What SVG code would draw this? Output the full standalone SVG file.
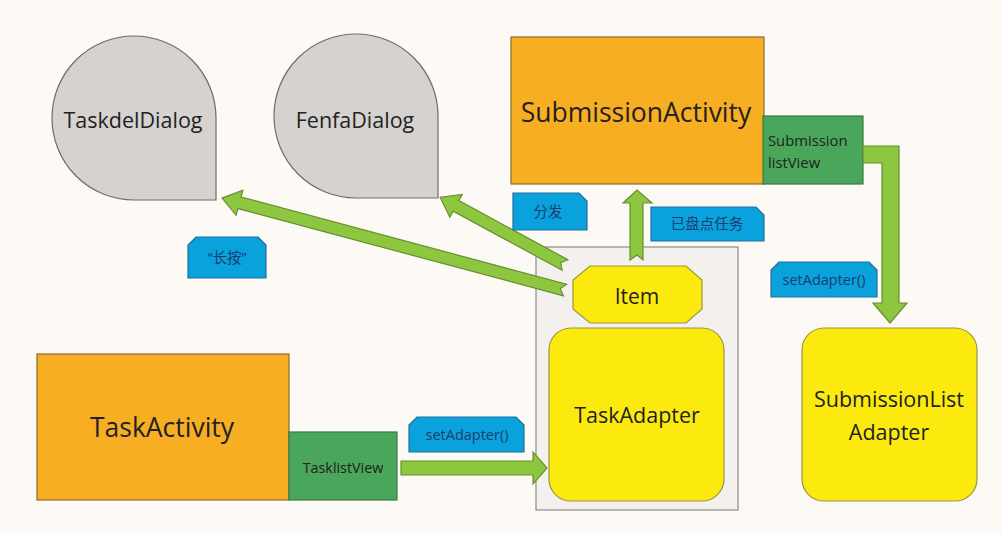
<svg xmlns="http://www.w3.org/2000/svg" width="1002" height="533" viewBox="0 0 1002 533">
  <style>
    .txt { font-family: "Open Sans", "Noto Sans CJK SC", sans-serif; fill: #222222; }
    .lbl { font-family: "Open Sans", "Noto Sans CJK SC", sans-serif; fill: #1a3d6d; font-size: 14.5px; }
    .drop { fill: #d6d2d0; stroke: #6e6c6b; stroke-width: 1.2; }
    .act { fill: #f8ae22; stroke: #8a6a2a; stroke-width: 1.2; }
    .list { fill: #4aa65a; stroke: #3d7a45; stroke-width: 1.2; }
    .adp { fill: #fcea0e; stroke: #9c9640; stroke-width: 1.2; }
    .tag { fill: #0aa2dc; stroke: #1f6f9e; stroke-width: 1.2; }
    .flow { fill: #8dc63f; stroke: #688f2f; stroke-width: 1.2; }
  </style>

  <rect x="0" y="0" width="1002" height="533" fill="#fdfaf5"/>

  <!-- container holding Item and TaskAdapter -->
  <g id="adapter-container">
    <rect x="536" y="247" width="202" height="263" fill="#f3f0ed" stroke="#8c8c8c" stroke-width="1.2"/>
  </g>

  <g id="taskdel-dialog">
    <path class="drop" d="M216,200 L134,200 A82,82 0 0 1 52,118 A82,82 0 0 1 134,36 A82,82 0 0 1 216,118 Z"/>
    <text class="txt" x="133" y="128" font-size="21.5" text-anchor="middle">TaskdelDialog</text>
  </g>

  <g id="fenfa-dialog">
    <path class="drop" d="M438,198 L356,198 A82,82 0 0 1 274,116 A82,82 0 0 1 356,34 A82,82 0 0 1 438,116 Z"/>
    <text class="txt" x="355" y="128" font-size="21.5" text-anchor="middle">FenfaDialog</text>
  </g>

  <g id="submission-activity">
    <rect class="act" x="511" y="37" width="253" height="147"/>
    <text class="txt" x="636" y="122" font-size="26.5" text-anchor="middle">SubmissionActivity</text>
  </g>

  <g id="submission-listview">
    <rect class="list" x="763" y="116" width="100" height="68"/>
    <text class="txt" x="768" y="146" font-size="14.8">Submission</text>
    <text class="txt" x="768" y="168" font-size="14.8">listView</text>
  </g>

  <g id="task-activity">
    <rect class="act" x="37" y="354" width="252" height="146"/>
    <text class="txt" x="162" y="437" font-size="26.5" text-anchor="middle">TaskActivity</text>
  </g>

  <g id="task-listview">
    <rect class="list" x="289" y="432" width="108" height="68"/>
    <text class="txt" x="343" y="473" font-size="14.3" text-anchor="middle">TasklistView</text>
  </g>

  <g id="item">
    <polygon class="adp" points="590,266 686,266 702,280 702,309 686,323 590,323 573,309 573,280"/>
    <text class="txt" x="637" y="304" font-size="21" text-anchor="middle">Item</text>
  </g>

  <g id="task-adapter">
    <rect class="adp" x="549" y="328" width="175" height="173" rx="22"/>
    <text class="txt" x="637" y="423" font-size="21.5" text-anchor="middle">TaskAdapter</text>
  </g>

  <g id="submission-list-adapter">
    <rect class="adp" x="802" y="328" width="175" height="173" rx="22"/>
    <text class="txt" x="889" y="407" font-size="21.5" text-anchor="middle">SubmissionList</text>
    <text class="txt" x="889" y="440" font-size="21.5" text-anchor="middle">Adapter</text>
  </g>

  <!-- connectors: block arrows with notched tails -->
  <g id="connectors">
    <!-- Item -> TaskdelDialog -->
    <path class="flow" transform="translate(565,290) rotate(195)" d="M0,-6 L337,-6 L337,-13 L355,0 L337,13 L337,6 L0,6 L5,0 Z"/>
    <!-- Item -> FenfaDialog -->
    <path class="flow" transform="translate(565,265) rotate(208.5)" d="M0,-6 L124,-6 L124,-13 L142,0 L124,13 L124,6 L0,6 L5,0 Z"/>
    <!-- Item -> SubmissionActivity -->
    <path class="flow" d="M630,260 L630,203 L623,203 L637,190 L652,203 L643,203 L643,260 L637,255 Z"/>
    <!-- SubmissionlistView -> SubmissionListAdapter -->
    <path class="flow" d="M863,146 L899,146 L899,303 L907,303 L890,323 L873,303 L882,303 L882,163 L863,163 Z"/>
    <!-- TasklistView -> TaskAdapter -->
    <path class="flow" d="M401,461 L533,461 L533,452 L547,468 L533,484 L533,475 L401,475 Z"/>
  </g>

  <g id="tag-longpress">
    <path class="tag" d="M196,237 L258,237 L266,245 L266,278 L188,278 L188,245 Z"/>
    <text class="lbl" x="227" y="263" text-anchor="middle">“长按”</text>
  </g>

  <g id="tag-fenfa">
    <path class="tag" d="M513,193 L579,193 L587,201 L587,230 L513,230 Z"/>
    <text class="lbl" x="548" y="217" text-anchor="middle">分发</text>
  </g>

  <g id="tag-checked">
    <path class="tag" d="M651,207 L756,207 L764,215 L764,241 L651,241 Z"/>
    <text class="lbl" x="707" y="229" text-anchor="middle">已盘点任务</text>
  </g>

  <g id="tag-setadapter-right">
    <path class="tag" d="M779,262 L869,262 L877,270 L877,297 L771,297 L771,270 Z"/>
    <text class="lbl" x="824" y="285" text-anchor="middle">setAdapter()</text>
  </g>

  <g id="tag-setadapter-left">
    <path class="tag" d="M417,417 L516,417 L524,425 L524,452 L409,452 L409,425 Z"/>
    <text class="lbl" x="467" y="440" text-anchor="middle">setAdapter()</text>
  </g>
</svg>
